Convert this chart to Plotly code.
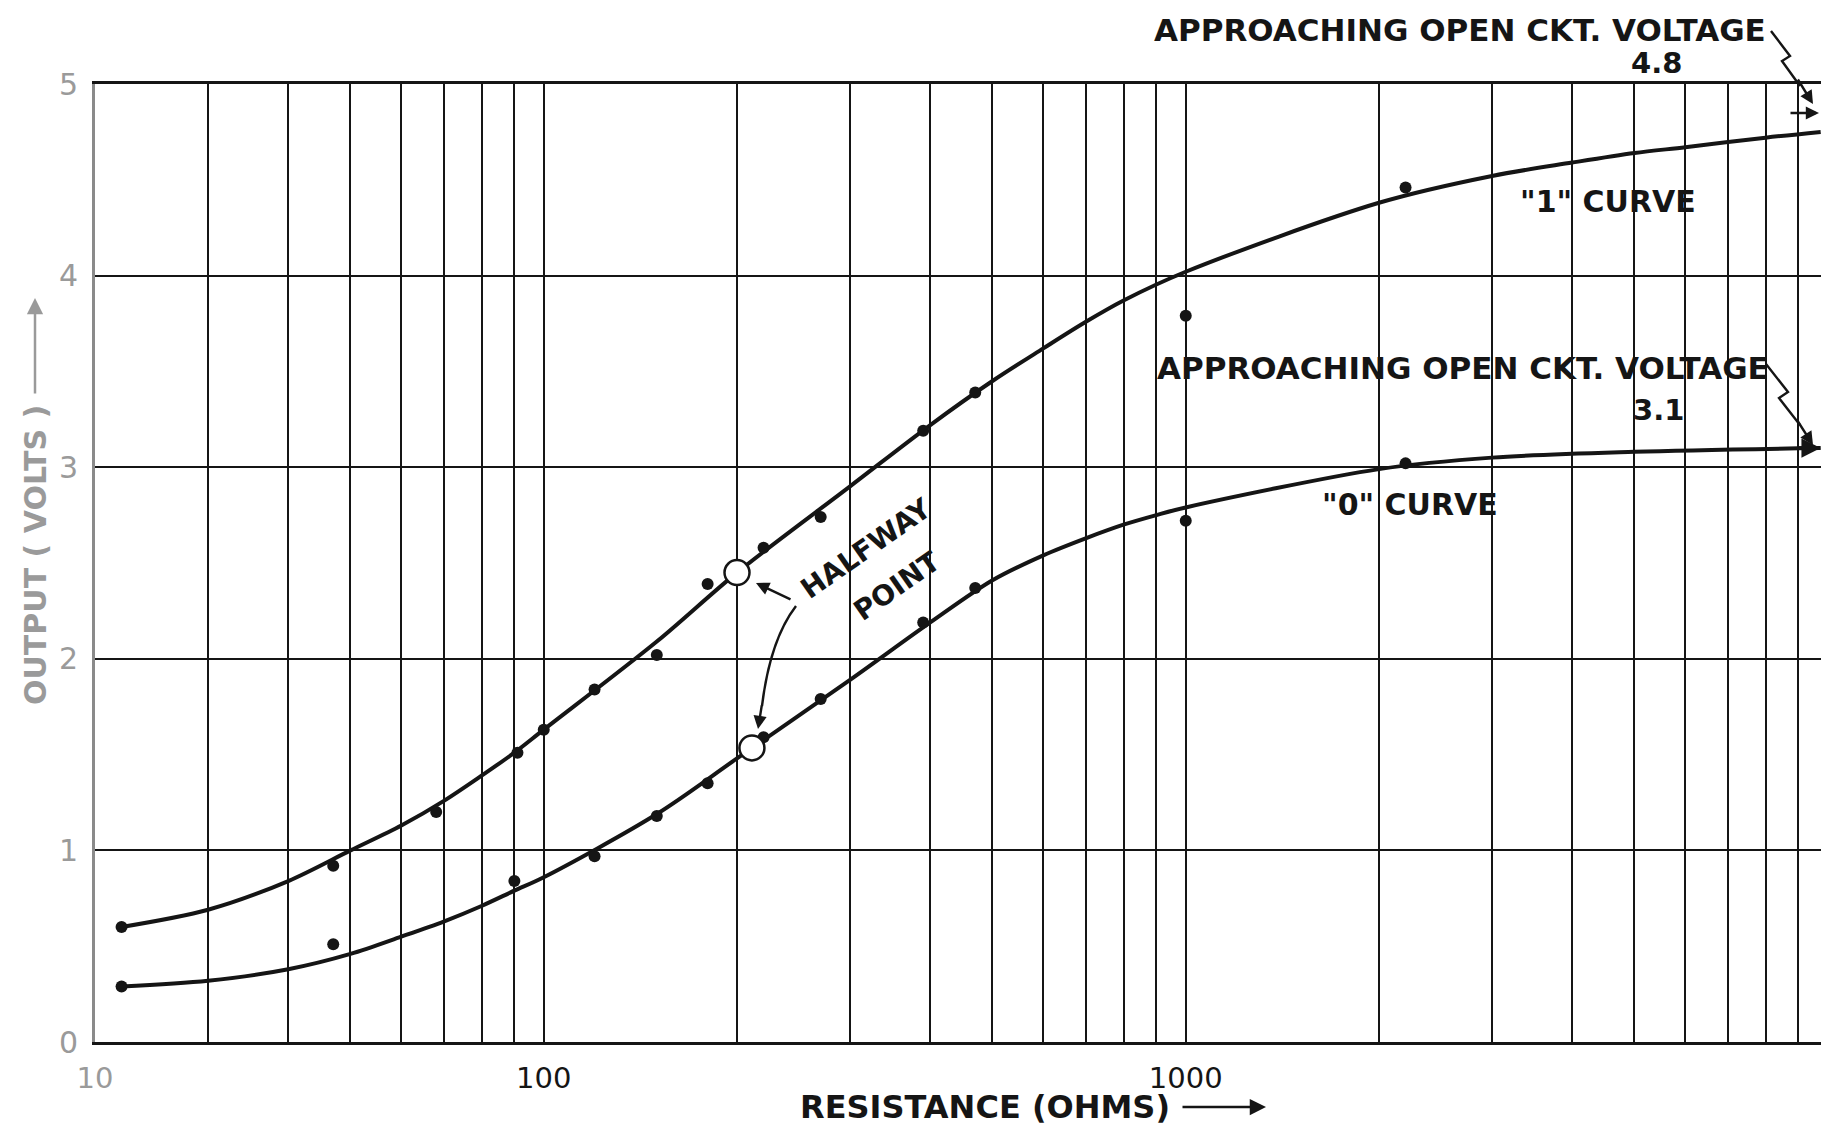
import math
import plotly.graph_objects as go

# ---------------- data ----------------
# "1" curve measured points
one_x = [22, 47, 68, 91, 100, 120, 150, 180, 220, 270, 390, 470, 1000, 2200]
one_y = [0.60, 0.92, 1.20, 1.51, 1.63, 1.84, 2.02, 2.39, 2.58, 2.74, 3.19, 3.39, 3.79, 4.46]
# "0" curve measured points
zero_x = [22, 47, 90, 120, 150, 180, 220, 270, 390, 470, 1000, 2200]
zero_y = [0.29, 0.51, 0.84, 0.97, 1.18, 1.35, 1.59, 1.79, 2.19, 2.37, 2.72, 3.02]
# halfway points (open circles)
half_x = [200, 211]
half_y = [2.45, 1.535]
# hand-drawn smooth curves
curve1_x = [22, 30, 40, 50, 60, 70, 80, 90, 100, 150, 200, 300, 400, 500, 600, 700, 800,
            1000, 2000, 3000, 4000, 5000, 6000, 8000, 9750]
curve1_y = [0.60, 0.69, 0.84, 1.00, 1.13, 1.26, 1.39, 1.51, 1.63, 2.09, 2.45, 2.90, 3.22, 3.45,
            3.62, 3.76, 3.87, 4.02, 4.38, 4.52, 4.59, 4.64, 4.67, 4.72, 4.75]
curve0_x = [22, 30, 40, 50, 60, 70, 80, 90, 100, 150, 200, 300, 400, 500, 600, 700, 800, 900,
            1000, 2000, 3000, 5000, 9750]
curve0_y = [0.29, 0.32, 0.38, 0.46, 0.55, 0.63, 0.71, 0.79, 0.86, 1.19, 1.48, 1.89, 2.19, 2.41,
            2.54, 2.63, 2.70, 2.75, 2.79, 2.99, 3.05, 3.08, 3.10]

# grid / tick labels
x_grid = [20, 30, 40, 50, 60, 70, 80, 90, 100, 200, 300, 400, 500, 600, 700, 800, 900,
          1000, 2000, 3000, 4000, 5000, 6000, 7000, 8000, 9000]
x_labels = {20: '<span style="color:#9a9a9a">10</span>', 100: '100', 1000: '1000'}
y_ticks = [0, 1, 2, 3, 4, 5]
y_labels = ['0', '1', '2', '3', '4', '5']

# ---------------- layout geometry ----------------
W, H = 1821, 1126
L, R, T, B = 95, 0, 84, 84
PW, PH = W - L - R, H - T - B
DECADE = 642.0
x0 = math.log10(20)
x1 = x0 + PW / DECADE

INK = '#151515'
GRAY = '#9a9a9a'
FONT = 'DejaVu Sans'


def P(px, py):
    return (px - L) / PW, (H - B - py) / PH


def path(points):
    s = ''
    for i, (px, py) in enumerate(points):
        x, y = P(px, py)
        s += ('M' if i == 0 else 'L') + f'{x:.5f},{y:.5f} '
    return s.strip()


fig = go.Figure()
fig.add_trace(go.Scatter(x=curve1_x, y=curve1_y, mode='lines',
                         line=dict(color=INK, width=4, shape='spline', smoothing=0.9),
                         hoverinfo='skip'))
fig.add_trace(go.Scatter(x=curve0_x, y=curve0_y, mode='lines',
                         line=dict(color=INK, width=4, shape='spline', smoothing=0.9),
                         hoverinfo='skip'))
fig.add_trace(go.Scatter(x=one_x, y=one_y, mode='markers',
                         marker=dict(color=INK, size=12)))
fig.add_trace(go.Scatter(x=zero_x, y=zero_y, mode='markers',
                         marker=dict(color=INK, size=12)))
fig.add_trace(go.Scatter(x=half_x, y=half_y, mode='markers',
                         marker=dict(color='white', size=25, line=dict(color=INK, width=2.5))))

fig.update_xaxes(type='log', range=[x0, x1], tickmode='array', tickvals=x_grid,
                 ticktext=[x_labels.get(v, '') for v in x_grid],
                 showgrid=True, gridcolor=INK, gridwidth=2,
                 showline=True, linecolor=INK, linewidth=3, mirror=True,
                 ticks='', zeroline=False, ticklabelstandoff=8,
                 tickfont=dict(family=FONT, size=29, color=INK))
fig.update_yaxes(range=[0, 5], tickmode='array', tickvals=y_ticks, ticktext=y_labels,
                 showgrid=True, gridcolor=INK, gridwidth=2,
                 showline=True, linecolor='#8a8a8a', linewidth=3,
                 ticks='', zeroline=False, ticklabelstandoff=8,
                 tickfont=dict(family=FONT, size=30, color=GRAY))

ann = []


def text(s, px, py, size=29, color=INK, angle=0, weight=700):
    x, y = P(px, py)
    ann.append(dict(x=x, y=y, xref='paper', yref='paper', text=s, showarrow=False,
                    xanchor='center', yanchor='middle', textangle=angle,
                    font=dict(family=FONT, size=size, color=color, weight=weight)))


def arrow(hx, hy, tx, ty, color=INK, width=2.5, size=1.0, head=2):
    x, y = P(hx, hy)
    ann.append(dict(x=x, y=y, xref='paper', yref='paper', text='', showarrow=True,
                    ax=tx - hx, ay=ty - hy, axref='pixel', ayref='pixel',
                    arrowhead=head, arrowsize=size, arrowwidth=width, arrowcolor=color,
                    standoff=0, startstandoff=0))


# axis titles
text('OUTPUT ( VOLTS )', 35, 555, size=30, color=GRAY, angle=-90)
arrow(35, 298, 35, 395, color=GRAY, width=2.5, size=1.3)
text('RESISTANCE (OHMS)', 985, 1107, size=32)
arrow(1266, 1107, 1181, 1107, width=2.5, size=1.3)

# notes
text('APPROACHING OPEN CKT. VOLTAGE', 1460, 30, size=31)
text('4.8', 1656, 63, size=29)
text('APPROACHING OPEN CKT. VOLTAGE', 1463, 368, size=31)
text('3.1', 1658, 410, size=29)
text('"1" CURVE', 1608, 201, size=30)
text('"0" CURVE', 1410, 504, size=30)
text('HALFWAY', 866, 548, size=28, angle=-35)
text('POINT', 896, 586, size=28, angle=-35)

# arrows to the asymptotes
arrow(1813, 104, 1797, 78, width=2.4, size=1.1)
arrow(1819, 113, 1789, 113, width=2.4, size=1.1)
arrow(1813, 445, 1797, 420, width=2.4, size=1.1)
xe, ye = math.log10(curve0_x[-1]), curve0_y[-1]
ann.append(dict(x=xe, y=ye, xref='x', yref='y', text='', showarrow=True, ax=-24, ay=0,
                arrowhead=2, arrowsize=1.1, arrowwidth=3.5, arrowcolor=INK, standoff=0))

# halfway arrows
arrow(756, 583, 792, 600, width=2.4, size=1.1)
arrow(758, 729, 762, 704, width=2.4, size=1.1)

shapes = [
    dict(type='path', xref='paper', yref='paper',
         path=path([(1771, 31), (1790, 56), (1782, 61), (1800, 86)]),
         line=dict(color=INK, width=2.4)),
    dict(type='path', xref='paper', yref='paper',
         path=path([(1766, 364), (1788, 392), (1779, 398), (1800, 425)]),
         line=dict(color=INK, width=2.4)),
]
# curved leader from HALFWAY to lower circle
qx0, qy0 = P(796, 606)
qcx, qcy = P(770, 640)
qx1, qy1 = P(762, 706)
shapes.append(dict(type='path', xref='paper', yref='paper',
                   path=f'M{qx0:.5f},{qy0:.5f} Q{qcx:.5f},{qcy:.5f} {qx1:.5f},{qy1:.5f}',
                   line=dict(color=INK, width=2.4)))

fig.update_layout(width=W, height=H, margin=dict(l=L, r=R, t=T, b=B),
                  plot_bgcolor='white', paper_bgcolor='white', showlegend=False,
                  annotations=ann, shapes=shapes)

fig.write_html("out.html", config={'displayModeBar': False},
               post_script="document.body.style.margin='0';")
